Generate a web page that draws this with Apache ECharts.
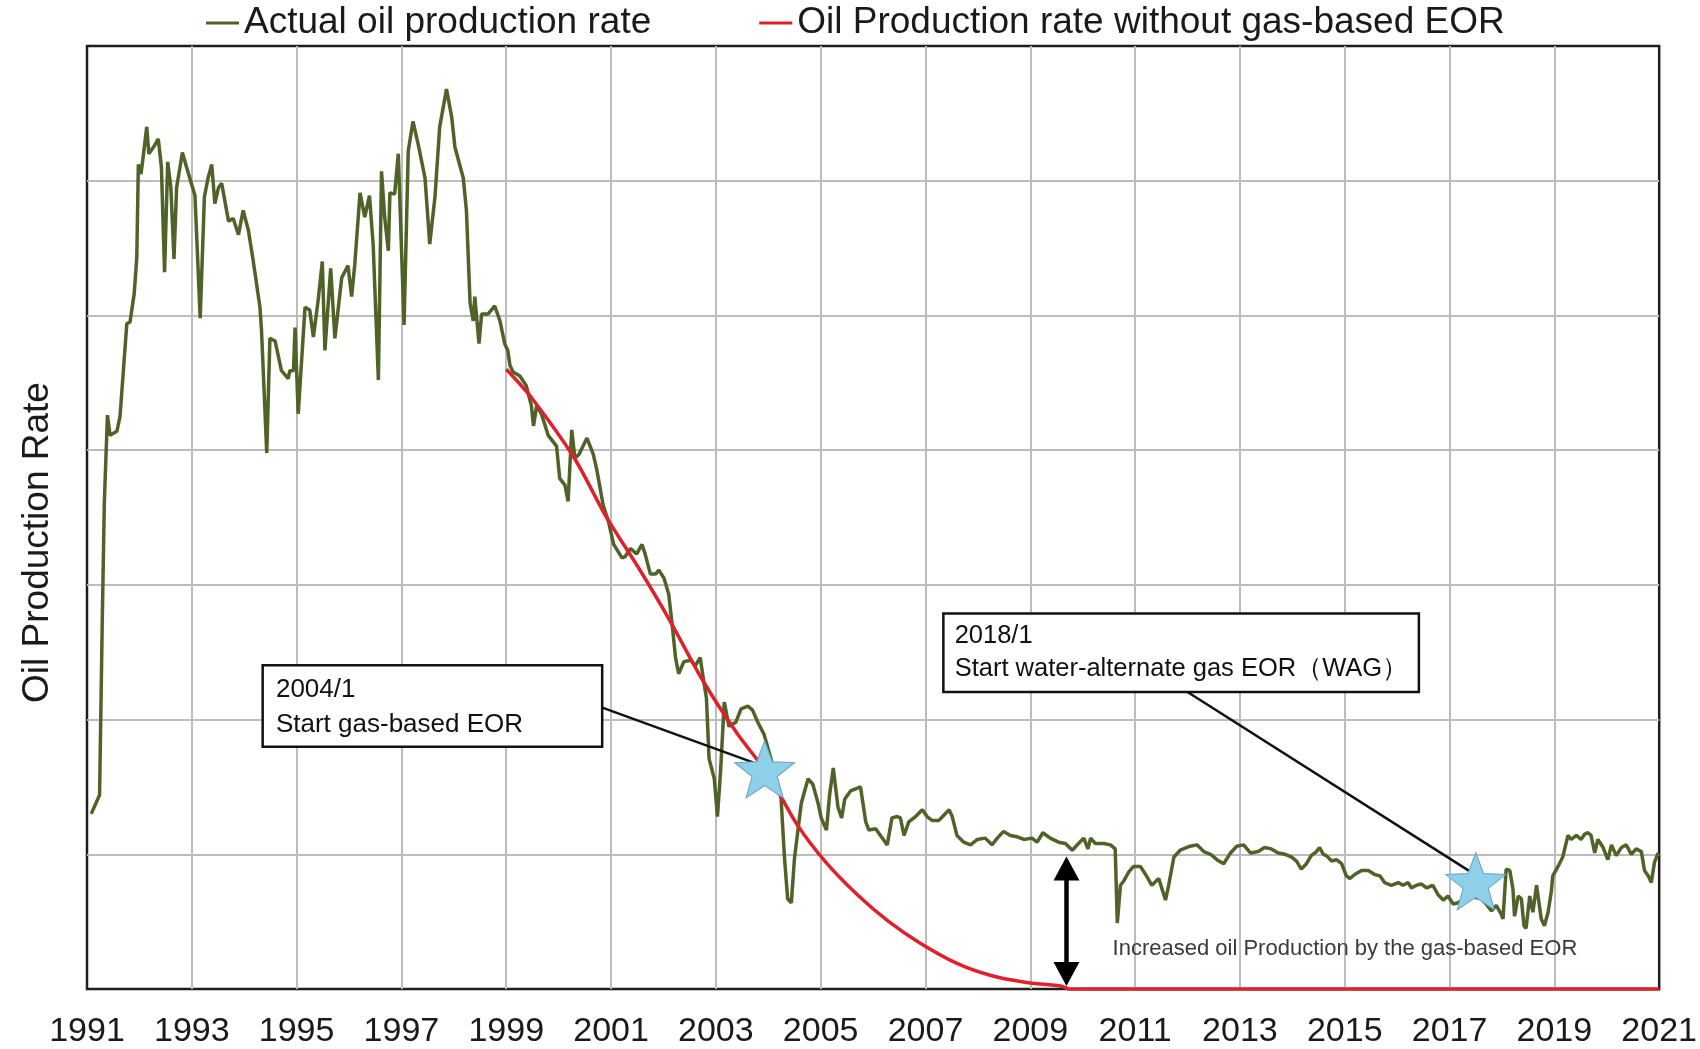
<!DOCTYPE html>
<html>
<head>
<meta charset="utf-8">
<script src="https://cdn.jsdelivr.net/npm/echarts@6/dist/echarts.min.js"></script>
<style>
html,body{margin:0;padding:0;background:#fff;}
#chart{width:1700px;height:1049px;}
</style>
</head>
<body>
<div id="chart"></div>
<script>
// ---------- DATA ----------
const xTickLabels = ['1991','1993','1995','1997','1999','2001','2003','2005','2007','2009','2011','2013','2015','2017','2019','2021'];

const seriesNames = ['Actual oil production rate', 'Oil Production rate without gas-based EOR'];

// [decimal year, rate]
const actualRate = [
[1991.08,1.30],[1991.24,1.44],[1991.29,2.7],[1991.33,3.6],[1991.39,4.26],[1991.44,4.11],[1991.57,4.14],[1991.63,4.25],[1991.76,4.94],[1991.82,4.95],[1991.90,5.16],[1991.95,5.43],[1991.98,6.12],[1992.03,6.05],[1992.07,6.17],[1992.14,6.40],[1992.18,6.20],[1992.27,6.25],[1992.36,6.31],[1992.42,6.10],[1992.48,5.32],[1992.54,6.14],[1992.60,5.95],[1992.66,5.42],[1992.71,5.95],[1992.82,6.21],[1992.90,6.10],[1993.06,5.89],[1993.16,4.98],[1993.24,5.88],[1993.31,6.02],[1993.38,6.12],[1993.44,5.83],[1993.51,5.95],[1993.57,5.98],[1993.70,5.70],[1993.79,5.72],[1993.89,5.60],[1993.98,5.78],[1994.08,5.63],[1994.17,5.41],[1994.30,5.06],[1994.33,4.89],[1994.43,3.98],[1994.49,4.83],[1994.59,4.81],[1994.71,4.59],[1994.84,4.53],[1994.87,4.59],[1994.94,4.59],[1994.97,4.91],[1995.03,4.27],[1995.16,5.06],[1995.25,5.04],[1995.32,4.84],[1995.41,5.11],[1995.49,5.40],[1995.54,4.74],[1995.65,5.35],[1995.73,4.83],[1995.86,5.28],[1995.98,5.37],[1996.05,5.14],[1996.11,5.38],[1996.21,5.91],[1996.30,5.73],[1996.39,5.89],[1996.46,5.53],[1996.56,4.52],[1996.62,6.07],[1996.68,5.73],[1996.75,5.48],[1996.78,5.91],[1996.87,5.90],[1996.94,6.20],[1997.05,4.93],[1997.13,6.22],[1997.22,6.44],[1997.32,6.27],[1997.45,6.02],[1997.54,5.53],[1997.64,5.88],[1997.73,6.40],[1997.86,6.68],[1997.96,6.47],[1998.02,6.25],[1998.18,6.02],[1998.24,5.78],[1998.31,5.09],[1998.37,4.96],[1998.40,5.14],[1998.48,4.79],[1998.53,5.01],[1998.65,5.01],[1998.78,5.07],[1998.88,4.96],[1998.97,4.79],[1999.03,4.74],
[1999.07,4.63],[1999.13,4.58],[1999.26,4.55],[1999.38,4.48],[1999.48,4.33],[1999.52,4.18],[1999.58,4.33],[1999.67,4.27],[1999.80,4.11],[1999.96,4.03],[2000.02,3.79],[2000.12,3.74],[2000.18,3.62],[2000.25,4.15],[2000.31,3.94],[2000.39,3.97],[2000.54,4.09],[2000.66,3.97],[2000.73,3.85],[2000.85,3.59],[2000.95,3.47],[2001.05,3.30],[2001.21,3.20],[2001.27,3.21],[2001.37,3.27],[2001.49,3.23],[2001.59,3.30],[2001.65,3.23],[2001.75,3.08],[2001.85,3.08],[2001.91,3.11],[2002.01,3.05],[2002.10,2.93],[2002.17,2.69],[2002.23,2.46],[2002.29,2.34],[2002.39,2.43],[2002.52,2.44],[2002.61,2.40],[2002.70,2.46],[2002.77,2.28],[2002.82,2.16],[2002.87,1.71],[2002.97,1.56],[2003.03,1.28],[2003.09,1.62],[2003.16,2.13],[2003.25,1.95],[2003.38,1.98],[2003.48,2.08],[2003.61,2.10],[2003.70,2.07],[2003.80,1.98],[2003.92,1.89],[2004.05,1.71],[2004.15,1.56],[2004.24,1.44],[2004.31,0.97],[2004.37,0.67],[2004.44,0.64],[2004.50,0.97],[2004.63,1.38],[2004.76,1.56],[2004.85,1.52],[2004.95,1.38],[2005.01,1.27],[2005.11,1.18],[2005.17,1.44],[2005.24,1.64],[2005.33,1.35],[2005.40,1.27],[2005.46,1.41],
[2005.57,1.47],[2005.76,1.50],[2005.86,1.24],[2005.92,1.18],[2006.05,1.19],[2006.14,1.14],[2006.27,1.07],[2006.36,1.27],[2006.46,1.28],[2006.52,1.27],[2006.59,1.14],[2006.68,1.24],[2006.81,1.28],[2006.94,1.33],[2007.03,1.28],[2007.13,1.25],[2007.25,1.25],[2007.35,1.29],[2007.45,1.33],[2007.51,1.28],[2007.60,1.14],[2007.73,1.09],[2007.86,1.07],[2007.99,1.11],[2008.14,1.12],[2008.27,1.07],[2008.37,1.12],[2008.49,1.17],[2008.62,1.14],[2008.75,1.13],[2008.88,1.11],[2009.03,1.12],[2009.13,1.09],[2009.24,1.16],[2009.38,1.12],[2009.54,1.09],[2009.67,1.08],[2009.80,1.03],[2009.92,1.08],[2010.02,1.12],[2010.10,1.04],[2010.15,1.12],[2010.24,1.08],[2010.40,1.08],[2010.53,1.07],[2010.62,1.04],[2010.66,0.49],[2010.72,0.77],[2010.78,0.80],[2010.88,0.87],[2010.97,0.91],[2011.10,0.91],[2011.20,0.85],[2011.32,0.77],[2011.45,0.82],[2011.58,0.66],[2011.64,0.77],[2011.74,0.98],[2011.86,1.03],[2012.05,1.06],[2012.18,1.07],[2012.31,1.02],[2012.44,1.00],[2012.56,0.96],[2012.69,0.93],[2012.82,1.01],[2012.94,1.06],[2013.07,1.07],[2013.20,1.01],
[2013.35,1.02],[2013.47,1.05],[2013.60,1.04],[2013.73,1.01],[2013.86,1.00],[2013.98,0.98],[2014.08,0.95],[2014.17,0.89],[2014.27,0.93],[2014.36,0.99],[2014.46,1.02],[2014.52,1.05],[2014.59,1.00],[2014.65,0.99],[2014.75,0.95],[2014.84,0.96],[2014.94,0.93],[2015.03,0.84],[2015.10,0.82],[2015.19,0.85],[2015.32,0.88],[2015.45,0.88],[2015.57,0.85],[2015.67,0.84],[2015.76,0.79],[2015.89,0.77],[2016.02,0.79],[2016.11,0.77],[2016.21,0.79],[2016.27,0.75],[2016.37,0.77],[2016.46,0.78],[2016.56,0.75],[2016.68,0.77],[2016.78,0.70],[2016.88,0.66],[2016.97,0.69],[2017.07,0.63],[2017.16,0.64],[2017.29,0.67],[2017.38,0.69],[2017.48,0.68],[2017.61,0.67],[2017.70,0.63],[2017.80,0.58],[2017.89,0.62],[2017.98,0.56],[2018.02,0.52],[2018.08,0.89],[2018.15,0.88],[2018.21,0.74],[2018.24,0.54],[2018.31,0.69],[2018.37,0.67],[2018.42,0.47],[2018.46,0.45],[2018.53,0.69],[2018.59,0.57],[2018.66,0.77],[2018.75,0.52],[2018.81,0.47],[2018.88,0.57],[2018.94,0.72],[2018.97,0.84],[2019.07,0.91],[2019.16,0.98],[2019.26,1.14],[2019.32,1.11],[2019.42,1.14],[2019.51,1.11],[2019.58,1.15],[2019.64,1.16],[2019.70,1.14],[2019.77,1.01],[2019.83,1.11],[2019.93,1.05],[2020.02,0.96],[2020.09,1.07],[2020.18,0.99],[2020.28,1.05],[2020.37,1.07],[2020.47,1.00],[2020.56,1.04],[2020.66,1.02],[2020.72,0.88],[2020.79,0.84],[2020.85,0.79],[2020.91,0.94],[2020.98,1.01]
];

const withoutEorRate = [
[1999.0,4.60],[1999.5,4.38],[2000.3,3.94],[2000.9,3.51],[2001.55,3.11],[2002.1,2.75],[2002.75,2.29],[2003.4,1.90],[2004.0,1.59],[2004.55,1.22],[2005.1,0.94],[2005.7,0.70],[2006.3,0.50],[2006.9,0.34],[2007.6,0.19],[2008.25,0.10],[2008.9,0.05],[2009.6,0.02],[2009.75,0],[2021,0]
];

// EOR start markers [year, rate]
const eorStarts = [[2003.93,1.63],[2017.50,0.80]];

// annotation texts
const note1Text = '2004/1\nStart gas-based EOR';
const note2Text = '2018/1\nStart water-alternate gas EOR（WAG）';
const gainText = 'Increased oil Production by the gas-based EOR';
const yTitle = 'Oil Production Rate';

// annotation anchors (data coordinates)
const note1Anchor = [1994.376, 2.394];
const note2Anchor = [2007.365, 2.778];
const note1Leader = [[2000.82, 2.09], [2003.72, 1.68]];
const note2Leader = [[2011.94, 2.22], [2017.44, 0.86]];
const gainArrow = [[2009.69, 0.894], [2009.69, 0.111]];
const gainTextAnchor = [2010.57, 0.30];

// ---------- CHART ----------
const FONT = "'Liberation Sans', Arial, Helvetica, sans-serif";
const starPath = 'path://M50,0L62.34,33.01L97.55,34.55L69.97,56.49L79.39,90.45L50,71L20.61,90.45L30.03,56.49L2.45,34.55L37.66,33.01Z';

const chart = echarts.init(document.getElementById('chart'), null, {renderer: 'canvas'});

const option = {
  animation: false,
  backgroundColor: '#ffffff',
  textStyle: {fontFamily: FONT},
  legend: {
    data: seriesNames,
    left: 206,
    top: 3,
    padding: 0,
    icon: 'rect',
    itemWidth: 33,
    itemHeight: 3,
    itemGap: 108,
    selectedMode: false,
    textStyle: {fontFamily: FONT, fontSize: 37, color: '#1a1a1a', lineHeight: 40}
  },
  grid: {
    left: 87, right: 40, top: 46, bottom: 56,
    show: true, borderColor: '#1e1e1e', borderWidth: 2.5, backgroundColor: 'transparent'
  },
  xAxis: {
    type: 'value',
    min: 1991, max: 2021, interval: 2,
    axisLine: {show: false},
    axisTick: {show: false},
    splitLine: {show: true, showMinLine: false, showMaxLine: false, lineStyle: {color: '#bdbdbd', width: 2}},
    axisLabel: {
      fontFamily: FONT, fontSize: 34, color: '#1a1a1a', margin: 26,
      showMinLabel: true, showMaxLabel: true,
      formatter: function (v) {
        const i = Math.round((v - 1991) / 2);
        return xTickLabels[i] !== undefined ? xTickLabels[i] : String(v);
      }
    }
  },
  yAxis: {
    type: 'value',
    min: 0, max: 7, interval: 1,
    name: yTitle,
    nameLocation: 'middle',
    nameGap: 31,
    nameRotate: 90,
    nameTextStyle: {fontFamily: FONT, fontSize: 37, color: '#1a1a1a', padding: [0, 50, 0, 0]},
    axisLine: {show: false},
    axisTick: {show: false},
    axisLabel: {show: false},
    splitLine: {show: true, showMinLine: false, showMaxLine: false, lineStyle: {color: '#bdbdbd', width: 2}}
  },
  series: [
    {
      name: seriesNames[0],
      type: 'line',
      data: actualRate,
      showSymbol: false,
      symbol: 'none',
      color: '#4f6228',
      lineStyle: {color: '#4f6228', width: 3.5},
      z: 3,
      markPoint: {
        silent: true,
        symbol: 'rect',
        symbolSize: 0,
        data: [
          {
            coord: note1Anchor,
            value: note1Text,
            label: {
              show: true, position: [0, 0], align: 'left', verticalAlign: 'top',
              formatter: note1Text,
              fontFamily: FONT, fontSize: 26, lineHeight: 35, color: '#111',
              backgroundColor: '#fff', borderColor: '#111', borderWidth: 2.5,
              padding: [6, 12, 3, 12], width: 313, height: 70
            }
          },
          {
            coord: note2Anchor,
            value: note2Text,
            label: {
              show: true, position: [0, 0], align: 'left', verticalAlign: 'top',
              formatter: note2Text,
              fontFamily: FONT, fontSize: 25.5, lineHeight: 33, color: '#111',
              backgroundColor: '#fff', borderColor: '#111', borderWidth: 2.5,
              padding: [5, 10, 5, 10], width: 453, height: 66
            }
          },
          {
            coord: gainTextAnchor,
            value: gainText,
            label: {
              show: true, position: 'right', distance: 0,
              formatter: gainText,
              fontFamily: FONT, fontSize: 22, color: '#3a3a3a'
            }
          }
        ]
      },
      markLine: {
        silent: true,
        symbol: ['none', 'none'],
        label: {show: false},
        lineStyle: {color: '#111', width: 2.5, type: 'solid'},
        emphasis: {disabled: true},
        data: [
          [{coord: note1Leader[0]}, {coord: note1Leader[1]}],
          [{coord: note2Leader[0]}, {coord: note2Leader[1]}]
        ]
      }
    },
    {
      name: seriesNames[1],
      type: 'line',
      data: withoutEorRate,
      showSymbol: false,
      symbol: 'none',
      smooth: 0.3,
      clip: false,
      color: '#e0202a',
      lineStyle: {color: '#e0202a', width: 3.5},
      z: 4,
      markLine: {
        silent: true,
        symbol: ['triangle', 'triangle'],
        symbolSize: [26, 24],
        label: {show: false},
        lineStyle: {color: '#000', width: 4.5, type: 'solid'},
        itemStyle: {color: '#000'},
        emphasis: {disabled: true},
        data: [
          [{coord: gainArrow[0]}, {coord: gainArrow[1]}]
        ]
      }
    },
    {
      name: 'EOR start',
      type: 'scatter',
      data: eorStarts,
      symbol: starPath,
      symbolSize: [60, 57],
      itemStyle: {color: '#8ecfea', borderColor: '#6aa3c4', borderWidth: 1, opacity: 1},
      z: 6,
      silent: true
    }
  ]
};

chart.setOption(option);
</script>
</body>
</html>
